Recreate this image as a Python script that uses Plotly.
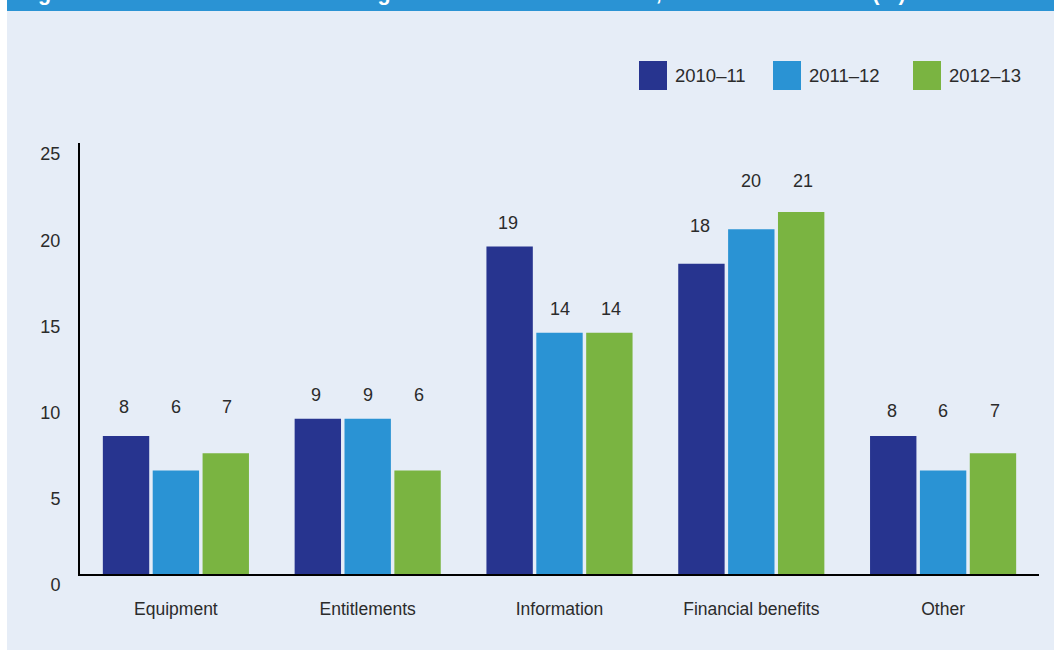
import plotly.graph_objects as go

# Data: external fraud focus categories, share of entities affected (%)
categories = ["Equipment", "Entitlements", "Information", "Financial benefits", "Other"]
series_names = ["2010–11", "2011–12", "2012–13"]
values_2010_11 = [8, 9, 19, 18, 8]
values_2011_12 = [6, 9, 14, 20, 6]
values_2012_13 = [7, 6, 14, 21, 7]
y_ticks = [0, 5, 10, 15, 20, 25]

series_values = [values_2010_11, values_2011_12, values_2012_13]
colors = ["#27348f", "#2a93d4", "#7ab441"]

# Heights (axis units) at which the value labels sit, one list per series
label_levels = [
    [9.7, 10.4, 20.35, 20.2, 9.45],
    [9.7, 10.4, 15.35, 22.8, 9.45],
    [9.7, 10.4, 15.35, 22.8, 9.45],
]

title_text = "Figure 10 External fraud focus categories and entities affected, 2010–11 to 2012–13 (%)"

W, H = 1054, 650
L, R, T, B = 80, 15, 143, 76
PW, PH = W - L - R, H - T - B
FONT = "Liberation Sans, Arial, sans-serif"
TEXT_COLOR = "#2b2b2b"


def px_x(x):
    return (x - L) / PW


def px_y(y):
    return 1 - (y - T) / PH


fig = go.Figure()
for name, vals, col in zip(series_names, series_values, colors):
    fig.add_trace(go.Bar(
        x=categories, y=vals, name=name, marker=dict(color=col, line=dict(width=0)),
        showlegend=False, hoverinfo="x+y+name",
    ))

shapes = [
    # panel background and header strip
    dict(type="rect", xref="paper", yref="paper", x0=px_x(7), x1=px_x(W + 5),
         y0=px_y(H + 5), y1=px_y(11), fillcolor="#e6edf7", line=dict(width=0), layer="below"),
    dict(type="rect", xref="paper", yref="paper", x0=px_x(7), x1=px_x(W + 5),
         y0=px_y(11), y1=px_y(-5), fillcolor="#2a93d4", line=dict(width=0), layer="below"),
]
annotations = [
    dict(text=title_text, xref="paper", yref="paper", x=px_x(17), y=px_y(7),
         xanchor="left", yanchor="bottom", showarrow=False,
         font=dict(family=FONT, size=21.5, color="white", weight="bold")),
]

# value labels above the bars
offsets = [-51.5, 0, 51.5]
for si, vals in enumerate(series_values):
    for ci, v in enumerate(vals):
        annotations.append(dict(
            x=categories[ci], y=label_levels[si][ci], xref="x", yref="y", text=str(v),
            showarrow=False, xshift=offsets[si], yanchor="middle",
            font=dict(family=FONT, size=18, color=TEXT_COLOR),
        ))

# legend built from squares and labels
legend_x = [639, 773, 913]
for name, col, lx in zip(series_names, colors, legend_x):
    shapes.append(dict(type="rect", xref="paper", yref="paper",
                       x0=px_x(lx), x1=px_x(lx + 28), y0=px_y(90), y1=px_y(61),
                       fillcolor=col, line=dict(width=0)))
    annotations.append(dict(text=name, xref="paper", yref="paper", x=px_x(lx + 34), y=px_y(76),
                            xanchor="left", yanchor="middle", showarrow=False,
                            font=dict(family=FONT, size=18.5, color=TEXT_COLOR)))

fig.update_layout(
    width=W, height=H,
    margin=dict(l=L, r=R, t=T, b=B, pad=0),
    paper_bgcolor="white", plot_bgcolor="rgba(0,0,0,0)",
    barmode="group", bargap=0.22, bargroupgap=0.07,
    shapes=shapes, annotations=annotations,
    font=dict(family=FONT, color=TEXT_COLOR),
    xaxis=dict(
        showline=True, linecolor="black", linewidth=2, showgrid=False, zeroline=False,
        ticks="", ticklabelstandoff=18, tickfont=dict(family=FONT, size=17.5, color=TEXT_COLOR),
        fixedrange=True,
    ),
    yaxis=dict(
        range=[0, 25], tickvals=y_ticks, ticktext=[str(t) for t in y_ticks],
        showline=True, linecolor="black", linewidth=2, showgrid=False, zeroline=False,
        ticks="", ticklabelstandoff=14, ticklabelshift=11,
        tickfont=dict(family=FONT, size=18, color=TEXT_COLOR), fixedrange=True,
    ),
)

fig.write_html("out.html")
